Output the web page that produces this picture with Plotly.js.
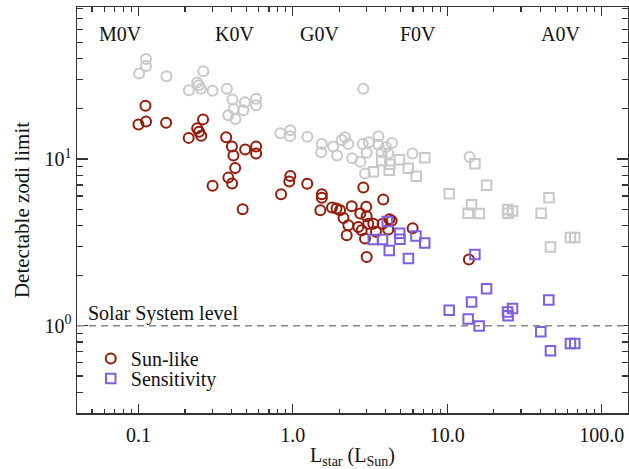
<!DOCTYPE html>
<html>
<head>
<meta charset="utf-8">
<script src="https://cdn.plot.ly/plotly-3.0.1.min.js"></script>
<style>html,body{margin:0;padding:0;background:#fff;}</style>
</head>
<body>
<div id="chart" style="width:629px;height:469px;"></div>
<script>
// ---- Data ----
// Grey circles (all stars, Sun-like case)
const allCircL = [0.112,0.112,0.101,0.152,0.263,0.240,0.246,0.254,0.212,0.302,0.374,0.406,0.489,0.578,0.578,0.478,0.414,0.382,0.425,0.830,0.963,0.959,1.241,1.538,1.526,1.820,1.932,2.072,2.176,2.286,2.423,2.734,2.833,2.931,2.858,3.11,3.006,3.584,3.584,4.01,4.382,4.147,3.748,5.947,13.94];
const allCircZ = [39.8,36.2,32.6,31.4,33.6,28.8,27.7,26.4,25.9,25.7,26.4,22.8,21.9,23.0,21.0,19.6,20.0,18.3,17.4,14.3,14.9,13.7,13.6,12.3,11.0,11.9,10.5,13.0,13.5,12.3,10.1,9.62,12.3,8.18,26.4,12.6,10.9,13.7,12.2,11.8,12.5,10.8,11.0,10.8,10.3];
// Grey squares (all stars, sensitivity case)
const allSqL = [3.33,3.76,4.25,4.21,4.90,5.59,6.29,7.16,15.1,17.96,10.29,14.36,13.65,16.13,24.55,24.77,26.45,40.5,45.55,46.58,62.74,66.9];
const allSqZ = [8.38,9.82,9.30,8.56,9.92,8.82,7.90,10.2,9.39,6.96,6.19,5.32,4.73,4.71,4.98,4.73,4.88,4.73,5.87,2.97,3.38,3.38];
// Sun-like (red circles)
const sunL = [0.111,0.112,0.100,0.151,0.262,0.240,0.247,0.255,0.2115,0.370,0.403,0.491,0.578,0.578,0.412,0.423,0.382,0.404,0.302,0.473,0.963,0.948,0.839,1.239,1.540,1.540,1.506,1.793,1.918,2.020,2.404,2.128,2.286,2.232,2.858,2.988,2.734,3.006,2.653,2.791,3.078,2.931,3.317,3.453,3.815,4.222,4.362,4.147,3.849,5.964,3.006,13.80];
const sunZ = [20.9,16.8,16.1,16.5,17.3,15.3,14.6,13.8,13.4,13.5,11.9,11.4,11.9,10.8,10.5,8.83,7.74,7.13,6.91,5.00,7.92,7.33,6.15,7.12,6.16,5.87,4.93,5.12,5.05,4.93,5.21,4.43,4.01,3.49,6.75,5.17,4.71,4.54,3.92,3.74,4.10,3.34,4.10,3.66,4.10,4.35,4.27,3.78,5.72,3.85,2.59,2.50];
// Sensitivity (purple squares)
const sensL = [4.086,3.317,3.804,4.209,4.915,4.937,6.265,7.142,5.603,15.09,17.96,14.36,10.29,13.65,16.08,24.55,24.77,26.45,45.41,40.31,46.58,62.74,66.9];
const sensZ = [4.23,3.29,3.29,2.83,3.59,3.30,3.46,3.14,2.53,2.68,1.67,1.39,1.24,1.10,0.996,1.21,1.15,1.27,1.43,0.92,0.708,0.784,0.784];
// Spectral type labels
const starTypes = ['M0V','K0V','G0V','F0V','A0V'];
const starLum = [0.077,0.42,1.48,6.5,54];
// Ticks
const xTickVals = [0.1,1,10,100];
const xTickText = ['0.1','1.0','10.0','100.0'];
const yTickVals = [1,10];
const yTickText = ['10<sup>0</sup>','10<sup>1</sup>'];
const solarLevel = 1;

const FONT = 'Liberation Serif, Times New Roman, serif';
const RED = '#951a08', PURPLE = '#7f5ee0', GREY = '#c8c8c8', AX = '#333333';

function minorVals(lo, hi){const v=[];for(let e=lo;e<=hi;e++){for(let m=2;m<=9;m++)v.push(m*Math.pow(10,e));}return v;}

const traces = [
  {x: allCircL, y: allCircZ, type:'scatter', mode:'markers', showlegend:false, hoverinfo:'skip',
   marker:{symbol:'circle-open', size:10, line:{width:2, color:GREY}, color:GREY}},
  {x: allSqL, y: allSqZ, type:'scatter', mode:'markers', showlegend:false, hoverinfo:'skip',
   marker:{symbol:'square-open', size:9.5, line:{width:2, color:GREY}, color:GREY}},
  {x: sunL, y: sunZ, type:'scatter', mode:'markers', name:'Sun-like', legend:'legend',
   marker:{symbol:'circle-open', size:10, line:{width:2, color:RED}, color:RED}},
  {x: sensL, y: sensZ, type:'scatter', mode:'markers', name:'Sensitivity', legend:'legend2',
   marker:{symbol:'square-open', size:9.5, line:{width:2, color:PURPLE}, color:PURPLE}}
];

const axisCommon = {
  showline:true, linecolor:AX, linewidth:1.5, mirror:'allticks', showgrid:false, zeroline:false,
  ticks:'inside', tickcolor:AX, tickwidth:1.2, tickfont:{family:FONT, size:20, color:'#111'}
};

const annotations = starTypes.map((t,i)=>({
  text:t, x:Math.log10(starLum[i]), y:0.933, xref:'x', yref:'paper', showarrow:false,
  xanchor:'center', yanchor:'middle', font:{family:FONT, size:20, color:'#111'}
}));
annotations.push({text:'Solar System level', x:0.016, xref:'paper', y:Math.log10(solarLevel), yref:'y',
  xanchor:'left', yanchor:'bottom', showarrow:false, yshift:-1, font:{family:FONT, size:20, color:'#111'}});

const layout = {
  width:629, height:469,
  margin:{l:77, r:1, t:7, b:56},
  paper_bgcolor:'#fff', plot_bgcolor:'#fff',
  font:{family:FONT, color:'#111'},
  xaxis: Object.assign({}, axisCommon, {
    type:'log', range:[Math.log10(0.04), Math.log10(148)],
    tickmode:'array', tickvals:xTickVals, ticktext:xTickText, ticklen:9, ticklabelstandoff:3,
    minor:{tickmode:'array', tickvals:minorVals(-2,2), ticks:'inside', ticklen:4.5, tickcolor:AX, tickwidth:1.2},
    title:{text:'L<sub>star</sub> (L<sub>Sun</sub>)', font:{family:FONT, size:20, color:'#111'}, standoff:6}
  }),
  yaxis: Object.assign({}, axisCommon, {
    type:'log', range:[Math.log10(0.3), 1.912],
    tickmode:'array', tickvals:yTickVals, ticktext:yTickText, ticklen:11,
    minor:{tickmode:'array', tickvals:minorVals(-1,1), ticks:'inside', ticklen:6, tickcolor:AX, tickwidth:1.2},
    title:{text:'Detectable zodi limit', font:{family:FONT, size:21, color:'#111'}, standoff:9}
  }),
  shapes:[{type:'line', xref:'paper', x0:0, x1:1, yref:'y', y0:solarLevel, y1:solarLevel,
    line:{color:'#888', width:1.5, dash:'7px,5px'}}],
  annotations: annotations,
  legend:{x:0.025, y:0.182, xanchor:'left', yanchor:'top', bgcolor:'rgba(0,0,0,0)', borderwidth:0,
    font:{family:FONT, size:20, color:'#111'}},
  legend2:{x:0.025, y:0.133, xanchor:'left', yanchor:'top', bgcolor:'rgba(0,0,0,0)', borderwidth:0,
    font:{family:FONT, size:20, color:'#111'}}
};

Plotly.newPlot('chart', traces, layout, {staticPlot:true, displayModeBar:false});
</script>
</body>
</html>
